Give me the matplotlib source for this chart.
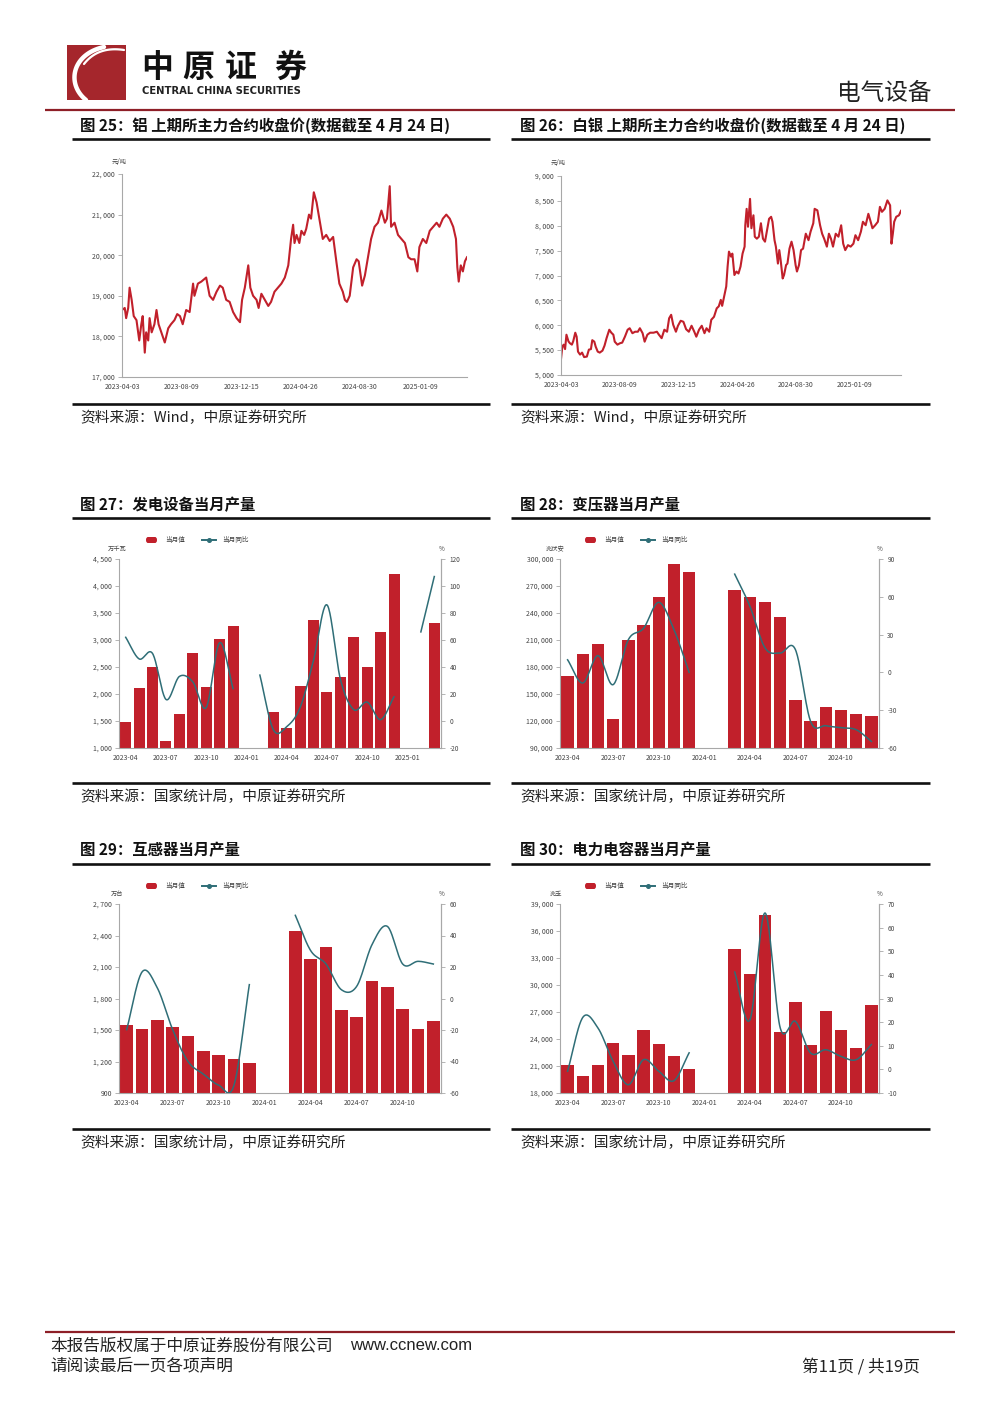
import numpy as np
import matplotlib
matplotlib.use("Agg")
import matplotlib.pyplot as plt
from matplotlib.lines import Line2D
from matplotlib.patches import Rectangle, FancyBboxPatch

plt.rcParams['font.family'] = ['Noto Sans CJK SC', 'DejaVu Sans']
plt.rcParams['axes.unicode_minus'] = False

W, H = 1000, 1414
RED = '#C1202B'
TEAL = '#2F6E77'
DARKRED = '#8E1F27'
GRID = '#A8A8A8'
TXT = '#444444'

# ---------------- data ----------------
al_day = [0,4,6,9,11,14,17,21,25,28,30,33,35,38,40,43,47,50,53,57,62,67,71,76,80,84,88,93,98,103,
          105,110,115,122,127,132,137,142,146,151,156,161,166,171,174,178,183,186,190,195,198,202,207,212,216,221,226,231,236,241,
          245,248,250,253,257,260,264,267,271,274,278,282,286,291,296,301,306,311,315,320,323,326,330,335,340,343,348,352,357,361,
          366,371,376,381,384,388,390,395,400,405,410,415,419,424,428,431,436,441,446,451,456,460,465,470,475,480,484,486,488,491,
          494,497,500]
al_price = [18650,18700,18450,18700,19200,18900,18500,18400,17900,18300,18500,17600,18100,17900,18450,18100,18300,18650,18300,18100,
            17850,18200,18300,18400,18550,18500,18300,18650,18600,19300,19000,19300,19350,19450,19000,18900,19100,19250,19200,18900,
            18850,18600,18450,18350,18900,19200,19750,19200,19000,18900,18700,19050,18900,18750,18850,19100,19200,19300,19450,19750,
            20400,20750,20300,20500,20300,20600,20500,20650,21000,20900,21550,21300,20900,20400,20500,20350,20450,19800,19300,19100,
            18900,18850,19000,19700,19900,19850,19250,19500,20000,20400,20700,20800,21100,20800,20900,21700,20700,20800,20500,20400,
            20300,19950,19900,19900,19600,20200,20400,20300,20600,20700,20800,20700,20900,21000,20900,20700,20400,19700,19350,19750,
            19600,19850,19950]

sv_day = [0,2,4,6,8,11,13,16,18,21,23,25,28,31,34,38,41,44,46,49,51,54,57,61,64,67,71,74,77,79,
          83,87,90,94,98,101,105,109,113,116,120,123,127,131,136,141,144,148,152,156,159,162,165,169,172,176,180,184,188,192,
          196,199,203,207,211,214,218,221,225,229,232,235,237,240,243,245,247,250,252,255,258,261,264,267,270,271,273,275,278,280,
          283,285,288,291,294,297,300,303,306,309,311,314,316,319,321,323,326,328,331,333,336,339,342,345,347,350,353,356,360,364,
          367,371,373,377,381,384,387,391,394,397,400,404,408,412,415,418,422,426,430,433,437,441,444,448,452,455,458,462,466,469,
          472,476,480,484,486,488,490,493,497,500]
sv_price = [5320,5575,5610,5520,5810,5675,5640,5610,5680,5850,5770,5470,5410,5450,5360,5370,5510,5520,5700,5670,
            5570,5470,5450,5490,5590,5740,5910,5850,5810,5670,5610,5640,5650,5770,5910,5940,5840,5870,5870,5940,
            5840,5670,5810,5850,5850,5870,5810,5740,5910,5870,6140,6210,6010,5870,5990,6090,6070,5920,5870,5990,
            5870,5770,5910,5990,5840,5940,5870,6110,6170,6340,6380,6510,6390,6580,6780,7180,7480,7380,7440,7010,
            7080,7040,7180,7440,7580,8010,8340,7980,8540,7950,8210,7780,7740,7780,8050,7740,7680,7910,8140,8180,
            8080,7710,7580,7240,7510,7310,6940,7010,7210,7240,7540,7680,7510,7210,7080,7210,7510,7540,7840,7710,
            7880,8050,8340,8310,8010,7840,7740,7580,7840,7740,7580,7840,7780,8010,7640,7510,7610,7580,7640,7810,
            7710,7880,8080,8010,8240,8100,7950,8010,8080,8380,8280,8340,8510,8410,7640,7840,8080,8180,8210,8300]
line_tick_days = [0, 86, 173, 259, 345, 432]
line_tick_labels = ['2023-04-03', '2023-08-09', '2023-12-15', '2024-04-26', '2024-08-30', '2025-01-09']

months24 = ['2023-04','2023-05','2023-06','2023-07','2023-08','2023-09','2023-10','2023-11','2023-12',
            '2024-01','2024-02','2024-03','2024-04','2024-05','2024-06','2024-07','2024-08','2024-09',
            '2024-10','2024-11','2024-12','2025-01','2025-02','2025-03']
months21 = months24[:21]

gen_val = [1490,2110,2500,1135,1625,2760,2125,3020,3255,None,None,1670,1375,2150,3370,2035,2320,3050,2500,3150,4230,None,None,3320]
gen_yoy = [62,46,50,16,33,29,10,58,24,None,34,-6.4,-4.2,10,45,86,31,8.4,14,1,18,None,66,107]

tr_val = [170000,194000,205500,122200,209600,226300,258200,294500,285200,None,None,265200,257400,252200,235600,143700,119600,135900,131800,128100,125100]
tr_yoy = [10,-8.4,13.3,-9.7,26,35,55.6,34,0,None,None,78,52.5,19.4,15.4,18,-39,-42.3,-43.9,-45.5,-54.8]

ct_val = [1550,1505,1595,1530,1445,1300,1262,1225,1190,None,None,2445,2176,2287,1687,1627,1970,1913,1700,1513,1589]
ct_yoy = [-19.8,16.8,6.7,-19.8,-40,-48,-55,-55,8.8,None,None,52.8,30.4,21.9,5.6,7.7,34.2,45.8,21.9,23.6,21.9]

cap_val = [21150,19900,21100,23600,22260,24950,23445,22074,20704,None,None,33950,31260,37815,24740,28150,23370,27110,24960,22960,27740]
cap_yoy = [-0.8,22,17.5,3.4,-6.5,4.1,-0.8,-4.8,7,None,None,41.2,21,66.2,17.5,20.3,6.9,8.3,5.5,4.1,10.5]

legend_labels = ['当月值', '当月同比']

# ---------------- helpers ----------------
fig = plt.figure(figsize=(W/100, H/100), dpi=100)


def fx(x):
    return np.asarray(x) / W


def fy(y):
    return 1 - np.asarray(y) / H


def add_ax(l, t, r, b):
    return fig.add_axes([fx(l), fy(b), (r - l) / W, (b - t) / H])


def T(x, y, s, **kw):
    kw.setdefault('va', 'center')
    return fig.text(fx(x), fy(y), s, **kw)


def HL(x0, x1, y, lw, color):
    fig.add_artist(Line2D([fx(x0), fx(x1)], [fy(y), fy(y)], lw=lw, color=color,
                          transform=fig.transFigure, solid_capstyle='butt'))


def thousands(v):
    return f"{int(v):,}".replace(',', ', ')


def catmull(xs, ys, n=24):
    xs = np.asarray(xs, float)
    ys = np.asarray(ys, float)
    if len(xs) < 2:
        return xs, ys
    px = np.concatenate([[2*xs[0]-xs[1]], xs, [2*xs[-1]-xs[-2]]])
    py = np.concatenate([[2*ys[0]-ys[1]], ys, [2*ys[-1]-ys[-2]]])
    t = np.linspace(0, 1, n)
    outx, outy = [], []
    for i in range(1, len(px) - 2):
        for P, out in ((px, outx), (py, outy)):
            p0, p1, p2, p3 = P[i-1], P[i], P[i+1], P[i+2]
            out.append(0.5*((2*p1) + (-p0+p2)*t + (2*p0-5*p1+4*p2-p3)*t**2 + (-p0+3*p1-3*p2+p3)*t**3))
    return np.concatenate(outx), np.concatenate(outy)


def segments(vals):
    seg = []
    cur = []
    for i, v in enumerate(vals):
        if v is None:
            if cur:
                seg.append(cur)
            cur = []
        else:
            cur.append(i)
    if cur:
        seg.append(cur)
    return seg


def style_axis(ax, right=False):
    ax.spines['top'].set_visible(False)
    for s in ('left', 'bottom', 'right'):
        ax.spines[s].set_color(GRID)
        ax.spines[s].set_linewidth(0.8)
    if not right:
        ax.spines['right'].set_visible(False)
    ax.tick_params(axis='y', length=3, width=0.6, color=GRID, labelsize=5, labelcolor=TXT, pad=2)
    ax.tick_params(axis='x', length=0, labelsize=5, labelcolor=TXT, pad=4)


def line_chart(l, t, r, b, days, prices, ylim, ystep, unit_xy):
    ax = add_ax(l, t, r, b)
    ax.plot(days, prices, color=RED, lw=1.5, solid_joinstyle='round')
    ax.set_xlim(0, 500)
    ax.set_ylim(*ylim)
    yt = np.arange(ylim[0], ylim[1] + 1, ystep)
    ax.set_yticks(yt)
    ax.set_yticklabels([thousands(v) for v in yt])
    ax.set_xticks(line_tick_days)
    ax.set_xticklabels(line_tick_labels)
    style_axis(ax)
    T(unit_xy[0], unit_xy[1], '元/吨', fontsize=4.5, color=TXT, ha='left')
    return ax


def bar_chart(l, t, r, b, cats, vals, yoy, ylim, ystep, rlim, rstep, unit, unit_x, rel_leg_y, leg_x0, label_step=3):
    ax = add_ax(l, t, r, b)
    n = len(cats)
    x = np.arange(n)
    v = np.array([np.nan if q is None else q for q in vals], float)
    ax.bar(x, v, width=0.82, color=RED, zorder=2)
    ax.set_xlim(-0.5, n - 0.5)
    ax.set_ylim(*ylim)
    yt = np.arange(ylim[0], ylim[1] + 1, ystep)
    ax.set_yticks(yt)
    ax.set_yticklabels([thousands(q) for q in yt])
    ax.set_xticks(x[::label_step])
    ax.set_xticklabels(cats[::label_step])
    style_axis(ax, right=True)
    ax2 = ax.twinx()
    for seg in segments(yoy):
        sx, sy = catmull(seg, [yoy[i] for i in seg])
        ax2.plot(sx, sy, color=TEAL, lw=1.1, zorder=3)
    ax2.set_ylim(*rlim)
    rt = np.arange(rlim[0], rlim[1] + 1, rstep)
    ax2.set_yticks(rt)
    ax2.set_yticklabels([str(int(q)) for q in rt])
    ax2.spines['top'].set_visible(False)
    ax2.spines['left'].set_visible(False)
    ax2.spines['bottom'].set_visible(False)
    ax2.spines['right'].set_color(GRID)
    ax2.spines['right'].set_linewidth(0.8)
    ax2.tick_params(axis='y', length=3, width=0.6, color=GRID, labelsize=4.6, labelcolor=TXT, pad=3)
    # units
    T(unit_x, t - 10, unit, fontsize=4.5, color=TXT, ha='left')
    T(r - 2, t - 10, '%', fontsize=4.5, color=TXT, ha='left')
    # legend
    ly = rel_leg_y
    fig.add_artist(FancyBboxPatch((fx(leg_x0), fy(ly + 3)), 11 / W, 6 / H,
                                  boxstyle='round,pad=0,rounding_size=0.002',
                                  transform=fig.transFigure, color=RED, lw=0))
    T(leg_x0 + 19, ly, legend_labels[0], fontsize=4.8, color=TXT, ha='left')
    fig.add_artist(Line2D([fx(leg_x0 + 56), fx(leg_x0 + 70)], [fy(ly), fy(ly)], color=TEAL, lw=1.4,
                          transform=fig.transFigure))
    fig.add_artist(Line2D([fx(leg_x0 + 63)], [fy(ly)], color=TEAL, marker='o', ms=2.6, lw=0,
                          transform=fig.transFigure))
    T(leg_x0 + 76, ly, legend_labels[1], fontsize=4.8, color=TXT, ha='left')
    return ax


# ---------------- header ----------------
fig.add_artist(Rectangle((fx(67), fy(100)), 59 / W, 55 / H, transform=fig.transFigure,
                         color='#A5262C', lw=0))
tt = np.linspace(0, 1, 40)
p0, p1, p2, p3 = np.array([104, 47]), np.array([72, 54]), np.array([66, 84]), np.array([86, 100])
curve = ((1-tt)**3)[:, None]*p0 + (3*(1-tt)**2*tt)[:, None]*p1 + (3*(1-tt)*tt**2)[:, None]*p2 + (tt**3)[:, None]*p3
fig.add_artist(Line2D(fx(curve[:, 0]), fy(curve[:, 1]), color='white', lw=3.2, transform=fig.transFigure,
                      solid_capstyle='round'))
q0, q1, q2 = np.array([84, 64]), np.array([98, 46]), np.array([124, 50])
curve2 = ((1-tt)**2)[:, None]*q0 + (2*(1-tt)*tt)[:, None]*q1 + (tt**2)[:, None]*q2
fig.add_artist(Line2D(fx(curve2[:, 0]), fy(curve2[:, 1]), color='white', lw=1.6, transform=fig.transFigure,
                      solid_capstyle='round'))
for ch, cx in zip('中原证券', [157, 198, 241, 290]):
    T(cx, 68, ch, fontsize=23, fontweight='heavy', color='#111111', ha='center')
T(142, 91, 'CENTRAL CHINA SECURITIES', fontsize=7.2, fontweight='bold', color='#222222',
  ha='left', family=['DejaVu Sans'])
T(932, 93, '电气设备', fontsize=17, color='#222222', ha='right')
HL(45, 955, 110, 1.6, DARKRED)

# ---------------- titles / frames ----------------
titles = [
    (80, 126, '图 25：铝 上期所主力合约收盘价(数据截至 4 月 24 日)'),
    (520, 126, '图 26：白银 上期所主力合约收盘价(数据截至 4 月 24 日)'),
    (80, 505, '图 27：发电设备当月产量'),
    (520, 505, '图 28：变压器当月产量'),
    (80, 850, '图 29：互感器当月产量'),
    (520, 850, '图 30：电力电容器当月产量'),
]
for x, y, s in titles:
    T(x, y, s, fontsize=11.1, fontweight='bold', color='#111111', ha='left')

for x0, x1 in ((72, 490), (511, 930)):
    for y in (139, 404, 518, 783, 864, 1129):
        HL(x0, x1, y, 1.9, '#111111')

sources = [
    (80, 418, '资料来源：Wind，中原证券研究所'),
    (520, 418, '资料来源：Wind，中原证券研究所'),
    (80, 797, '资料来源：国家统计局，中原证券研究所'),
    (520, 797, '资料来源：国家统计局，中原证券研究所'),
    (80, 1143, '资料来源：国家统计局，中原证券研究所'),
    (520, 1143, '资料来源：国家统计局，中原证券研究所'),
]
for x, y, s in sources:
    T(x, y, s, fontsize=10.6, color='#222222', ha='left')

# ---------------- charts ----------------
line_chart(122, 174, 467, 377, al_day, al_price, (17000, 22000), 1000, (112, 162))
line_chart(561, 176, 901, 375, sv_day, sv_price, (5000, 9000), 500, (551, 163))

bar_chart(119, 559, 441, 748, months24, gen_val, gen_yoy, (1000, 4500), 500, (-20, 120), 20,
          '万千瓦', 108, 540, 146)
bar_chart(560, 559, 879, 748, months21, tr_val, tr_yoy, (90000, 300000), 30000, (-60, 90), 30,
          '兆伏安', 546, 540, 585)
bar_chart(119, 904, 441, 1093, months21, ct_val, ct_yoy, (900, 2700), 300, (-60, 60), 20,
          '万台', 111, 886, 146)
bar_chart(560, 904, 879, 1093, months21, cap_val, cap_yoy, (18000, 39000), 3000, (-10, 70), 10,
          '兆乏', 550, 886, 585)

# ---------------- footer ----------------
HL(45, 955, 1332, 1.6, DARKRED)
T(50, 1346, '本报告版权属于中原证券股份有限公司', fontsize=12, color='#222222', ha='left')
T(350, 1346, 'www.ccnew.com', fontsize=12, color='#222222', ha='left', family=['Liberation Sans'])
T(50, 1367, '请阅读最后一页各项声明', fontsize=12, color='#222222', ha='left')
T(920, 1367, '第11页 / 共19页', fontsize=12, color='#222222', ha='right')

fig.savefig('out.png', dpi=100)
